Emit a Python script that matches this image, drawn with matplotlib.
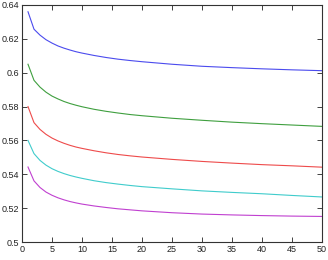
"""Five decaying curves, gnuplot-style frame."""
import matplotlib
matplotlib.use("Agg")
import matplotlib.pyplot as plt

x = [1, 2, 3, 4, 5, 6, 7, 8, 9, 10, 12, 14, 16, 18, 20, 25, 30, 35, 40, 45, 50]
blue = [0.6360, 0.6257, 0.6222, 0.6195, 0.6175, 0.6158, 0.6145, 0.6134,
        0.6124, 0.6116, 0.6102, 0.6090, 0.6080, 0.6072, 0.6065, 0.6050,
        0.6038, 0.6030, 0.6023, 0.6017, 0.6012]
green = [0.6050, 0.5955, 0.5915, 0.5885, 0.5862, 0.5845, 0.5830, 0.5818,
         0.5808, 0.5799, 0.5784, 0.5772, 0.5762, 0.5753, 0.5746, 0.5731,
         0.5719, 0.5708, 0.5699, 0.5691, 0.5683]
red = [0.5800, 0.5705, 0.5665, 0.5636, 0.5614, 0.5597, 0.5583, 0.5571,
       0.5561, 0.5553, 0.5539, 0.5527, 0.5517, 0.5509, 0.5502, 0.5488,
       0.5476, 0.5466, 0.5457, 0.5450, 0.5442]
cyan = [0.5600, 0.5522, 0.5482, 0.5454, 0.5433, 0.5417, 0.5404, 0.5393,
        0.5384, 0.5376, 0.5362, 0.5351, 0.5342, 0.5334, 0.5327, 0.5314,
        0.5302, 0.5293, 0.5285, 0.5275, 0.5266]
magenta = [0.5443, 0.5361, 0.5322, 0.5295, 0.5276, 0.5261, 0.5249, 0.5239,
           0.5231, 0.5224, 0.5213, 0.5204, 0.5196, 0.5190, 0.5184, 0.5173,
           0.5165, 0.5160, 0.5156, 0.5153, 0.5151]

series = [(blue, "#4b4bee"), (green, "#3f9f3f"), (red, "#ee4b4b"),
          (cyan, "#40cccc"), (magenta, "#c040d0")]

xticks = [0, 5, 10, 15, 20, 25, 30, 35, 40, 45, 50]
yticks = [0.5, 0.52, 0.54, 0.56, 0.58, 0.6, 0.62, 0.64]
ylabels = ["0.5", "0.52", "0.54", "0.56", "0.58", "0.6", "0.62", "0.64"]

plt.rcParams["font.family"] = ["Liberation Sans", "DejaVu Sans"]
fig = plt.figure(figsize=(3.28, 2.6), dpi=100)
ax = fig.add_axes([22 / 328, 18 / 260, 300 / 328, 237 / 260])
for ys, c in series:
    ax.plot(x, ys, color=c, lw=0.8)
ax.set_xlim(0, 50)
ax.set_ylim(0.5, 0.64)
ax.set_xticks(xticks)
ax.set_yticks(yticks)
ax.set_yticklabels(ylabels)
ax.tick_params(direction="in", top=True, right=True, length=3.5, width=0.6,
               labelsize=6.5, pad=2, colors="#222222")
for s in ax.spines.values():
    s.set_linewidth(0.8)
    s.set_color("#333333")
fig.savefig("out.png", dpi=100)
